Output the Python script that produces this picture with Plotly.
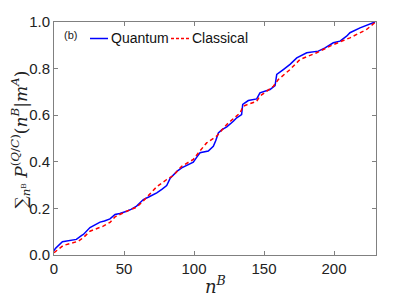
import plotly.graph_objects as go

# Data
q_x = [0, 1, 6, 13.6, 16, 19.8, 21, 25.7, 28, 32.9, 36, 40, 43.6, 47, 51.9, 55, 59, 63.8,
       68, 73.4, 77, 80.5, 83, 85.2, 88, 91.2, 95, 99.5, 102, 104.3, 110.2, 113.8, 115.5, 117.4,
       120, 123.4, 128.1, 130.5, 134, 134.8, 138.8, 141.2, 144.8, 147.1, 154.3, 157.9, 159.1,
       163.8, 168.6, 173.4, 180.5, 188.8, 193.6, 199.5, 204.3, 209, 211.4, 218.6, 223.3, 229.3]
q_y = [0.018, 0.028, 0.057, 0.066, 0.067, 0.084, 0.088, 0.118, 0.125, 0.141, 0.146, 0.155, 0.174, 0.178, 0.188, 0.196, 0.21, 0.238,
       0.25, 0.267, 0.282, 0.298, 0.33, 0.345, 0.36, 0.374, 0.385, 0.398, 0.42, 0.439, 0.446, 0.467, 0.49, 0.524,
       0.538, 0.55, 0.574, 0.589, 0.603, 0.646, 0.663, 0.667, 0.670, 0.696, 0.710, 0.727, 0.775,
       0.796, 0.818, 0.846, 0.868, 0.875, 0.889, 0.911, 0.918, 0.939, 0.954, 0.975, 0.985, 1.0]

c_x = [0, 6.7, 17.4, 21, 25.7, 35.2, 40, 43.6, 51.9, 59, 63.8, 73.4, 80.5, 85, 91.2, 99.5, 104,
       109, 116.2, 123.4, 132.9, 135.2, 144.8, 147.1, 156.7, 160.2, 168.6, 175.7, 187.6, 199.5,
       211.4, 223.3, 229.3]
c_y = [0.01, 0.041, 0.059, 0.075, 0.102, 0.124, 0.14, 0.164, 0.188, 0.205, 0.232, 0.293, 0.324, 0.34, 0.381, 0.41, 0.445,
       0.481, 0.51, 0.56, 0.61, 0.639, 0.66, 0.682, 0.724, 0.753, 0.796, 0.839, 0.868, 0.903,
       0.932, 0.968, 0.998]

x_ticks = [0, 50, 100, 150, 200]
y_ticks = [0.0, 0.2, 0.4, 0.6, 0.8, 1.0]
series_names = ["Quantum", "Classical"]

BLUE = "#0000ff"
RED = "#ff0000"
RED_DASH = "4px,3px"

fig = go.Figure()
fig.add_trace(go.Scatter(x=q_x, y=q_y, mode="lines", name=series_names[0],
                         line=dict(color=BLUE, width=1.5), showlegend=False))
fig.add_trace(go.Scatter(x=c_x, y=c_y, mode="lines", name=series_names[1],
                         line=dict(color=RED, width=1.5, dash=RED_DASH), showlegend=False))

axis_common = dict(showgrid=False, zeroline=False, showline=True, linecolor="#808080",
                   linewidth=1, mirror="allticks", ticks="inside", ticklen=4, automargin=False,
                   tickcolor="#808080", tickfont=dict(family="Liberation Sans, Arial", size=15, color="#222"))

fig.update_xaxes(range=[0, 230], tickvals=x_ticks, ticktext=[str(v) for v in x_ticks], **axis_common)
fig.update_yaxes(range=[0, 1.0], tickvals=y_ticks, ticktext=[f"{v:.1f}" for v in y_ticks], **axis_common)

# helpers: page pixel -> paper coords (plot area spans page x 54..376, y 22.5..255.5)
def px_x(p):
    return (p - 54) / 322

def px_y(p):
    return (255.5 - p) / 233

# y-axis title
fig.add_annotation(x=px_x(21), y=px_y(140), xref="paper", yref="paper", textangle=-90,
                   text="∑<sub><i>n</i>ᴮ</sub> <i>P</i><sup>(<i>Q</i>/<i>C</i>)</sup>(<i>n</i><sup><i>B</i></sup>|<i>m</i><sup><i>A</i></sup>)",
                   showarrow=False, xanchor="center", yanchor="middle",
                   font=dict(family="DejaVu Serif, serif", size=17, color="#222"))

# x-axis title
fig.add_annotation(x=0.5, y=px_y(285), xref="paper", yref="paper", text="<i>n</i><sup><i>B</i></sup>",
                   showarrow=False, xanchor="center", yanchor="middle",
                   font=dict(family="DejaVu Serif, serif", size=18, color="#222"))

# panel label
fig.add_annotation(x=px_x(62), y=px_y(36), xref="paper", yref="paper", text="(b)", showarrow=False,
                   xanchor="left", yanchor="middle",
                   font=dict(family="Liberation Sans, Arial", size=11, color="#222"))

# manual legend
ly = px_y(39)
fig.add_shape(type="line", xref="paper", yref="paper", x0=px_x(90), x1=px_x(108), y0=ly, y1=ly,
              line=dict(color=BLUE, width=1.5))
fig.add_annotation(x=px_x(108.5), y=ly, xref="paper", yref="paper", text=series_names[0], showarrow=False,
                   xanchor="left", yanchor="middle",
                   font=dict(family="Liberation Sans, Arial", size=14, color="#111"))
fig.add_shape(type="line", xref="paper", yref="paper", x0=px_x(171), x1=px_x(189), y0=ly, y1=ly,
              line=dict(color=RED, width=1.5, dash="3px,2px"))
fig.add_annotation(x=px_x(189.5), y=ly, xref="paper", yref="paper", text=series_names[1], showarrow=False,
                   xanchor="left", yanchor="middle",
                   font=dict(family="Liberation Sans, Arial", size=14, color="#111"))

# page body has an 8px default margin, so the figure is offset by 8px
fig.update_layout(
    width=407, height=295,
    margin=dict(l=46, r=39, t=14, b=47.5),
    plot_bgcolor="white", paper_bgcolor="white",
    showlegend=False,
)

fig.write_html("out.html")
